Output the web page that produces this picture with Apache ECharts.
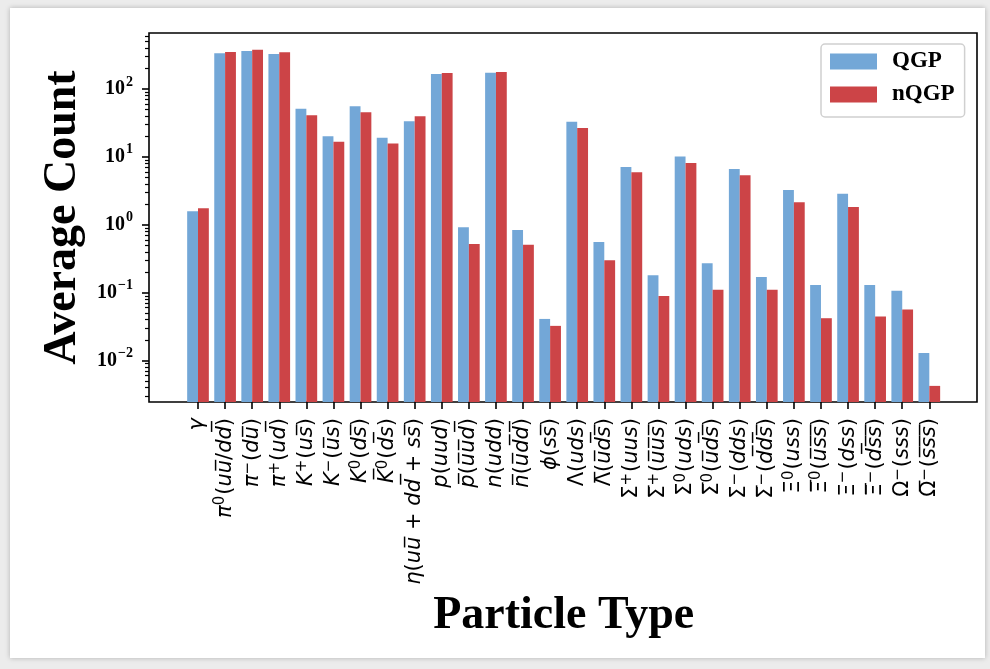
<!DOCTYPE html>
<html><head><meta charset="utf-8">
<script src="https://cdn.jsdelivr.net/npm/echarts@6/dist/echarts.min.js"></script>
<style>
html,body{margin:0;padding:0;background:#ececec;}
#wrap{position:relative;width:990px;height:669px;overflow:hidden;background:#ececec;}
#card{position:absolute;left:10px;top:8px;width:975px;height:650px;background:#fff;box-shadow:0 0 5px rgba(0,0,0,0.25);}
#chart{position:absolute;left:0;top:0;width:990px;height:669px;}
</style></head><body>
<div id="wrap"><div id="card"></div><div id="chart"></div></div>
<script>
// Category labels (overline = combining U+0305)
const categories = [
  "γ", "π⁰(uu̅/dd̅)", "π⁻(du̅)", "π⁺(ud̅)", "K⁺(us̅)", "K⁻(u̅s)", "K⁰(ds̅)", "K̅⁰(d̅s)",
  "η(uu̅ + dd̅ + ss̅)", "p(uud)", "p̅(u̅u̅d̅)", "n(udd)", "n̅(u̅d̅d̅)", "ϕ(ss̅)",
  "Λ(uds)", "Λ̅(u̅d̅s̅)", "Σ⁺(uus)", "Σ̅⁺(u̅u̅s̅)", "Σ⁰(uds)", "Σ̅⁰(u̅d̅s̅)",
  "Σ⁻(dds)", "Σ̅⁻(d̅d̅s̅)", "Ξ⁰(uss)", "Ξ̅⁰(u̅s̅s̅)", "Ξ⁻(dss)", "Ξ̅⁻(d̅s̅s̅)",
  "Ω⁻(sss)", "Ω̅⁻(s̅s̅s̅)"
];
const seriesNames = ["QGP", "nQGP"];
const qgp = [1.58, 336, 363, 328, 51.3, 20.1, 55.6, 19.2, 33.4, 166, 0.918, 174, 0.838, 0.041,
  33.0, 0.558, 7.1, 0.18, 10.1, 0.271, 6.63, 0.170, 3.26, 0.130, 2.87, 0.130, 0.107, 0.0129];
const nqgp = [1.75, 351, 380, 347, 41.0, 16.7, 45.4, 15.8, 39.6, 172, 0.521, 178, 0.509, 0.0324,
  26.7, 0.30, 5.93, 0.0893, 8.13, 0.11, 5.36, 0.11, 2.14, 0.042, 1.83, 0.0445, 0.0564, 0.00423];
const yTickExponents = [-2, -1, 0, 1, 2];
const minorMultipliers = [2, 3, 4, 5, 6, 7, 8, 9];
const yMinExp = -2.611, yMaxExp = 2.825;

const minorTicks = [];
for (let n = -3; n <= 2; n++) {
  minorMultipliers.forEach(k => {
    const e = n + Math.log10(k);
    if (e >= yMinExp && e <= yMaxExp) minorTicks.push(e);
  });
}

const supMap = { "⁰": "0", "⁺": "+", "⁻": "−" };
const upright = new Set(["(", ")", "+", "/", " ", "Σ", "Λ", "Ξ", "Ω"]);
function richLabel(s) {
  const chars = Array.from(s);
  const segs = [];
  for (let i = 0; i < chars.length; i++) {
    let c = chars[i];
    const base = c;
    while (i + 1 < chars.length && chars[i + 1] === "\u0305") { c += chars[i + 1]; i++; }
    let st;
    if (supMap[base]) { st = "s"; c = supMap[base]; }
    else st = upright.has(base) ? "n" : "i";
    if (segs.length && segs[segs.length - 1].st === st) segs[segs.length - 1].t += c;
    else segs.push({ st, t: c });
  }
  return segs.map(g => "{" + g.st + "|" + g.t + "}").join("");
}

const serif = "'Liberation Serif', 'Times New Roman', serif";
const sans = "'DejaVu Sans', sans-serif";
const labelSize = 21;

const chart = echarts.init(document.getElementById("chart"), null, { renderer: "canvas" });
chart.setOption({
  animation: false,
  backgroundColor: "transparent",
  grid: [
    { left: 149, top: 33, width: 828, height: 369, show: true, borderColor: "#000", borderWidth: 1.6, backgroundColor: "transparent" },
    { left: 184.46, top: 33, width: 758.4, height: 369 }
  ],
  legend: {
    data: seriesNames,
    orient: "vertical",
    left: 821, top: 44,
    icon: "rect",
    itemWidth: 47, itemHeight: 16, itemGap: 10,
    padding: [6, 10, 11, 9],
    borderColor: "#d0d0d0", borderWidth: 1.5, borderRadius: 4,
    backgroundColor: "rgba(255,255,255,0.8)",
    textStyle: { fontFamily: serif, fontWeight: "bold", fontSize: 23, lineHeight: 23, color: "#000", padding: [0, 0, 0, 10] }
  },
  xAxis: [
    { gridIndex: 0, type: "value", min: 0, max: 1, show: false },
    {
      gridIndex: 1, type: "category", data: categories,
      axisLine: { show: false },
      axisTick: { show: true, alignWithLabel: true, length: 7, lineStyle: { color: "#000", width: 1.6 } },
      axisLabel: {
        interval: 0, rotate: 90, margin: 16, color: "#000",
        formatter: v => richLabel(v),
        rich: {
          i: { fontFamily: sans, fontStyle: "italic", fontSize: labelSize, lineHeight: 22, color: "#000" },
          n: { fontFamily: sans, fontStyle: "normal", fontSize: labelSize, lineHeight: 22, color: "#000" },
          s: { fontFamily: sans, fontStyle: "normal", fontSize: 15, lineHeight: 15, padding: [0, 1, 9, 0], color: "#000" }
        }
      },
      name: "Particle Type", nameLocation: "middle", nameGap: 187,
      nameTextStyle: { fontFamily: serif, fontWeight: "bold", fontSize: 46, color: "#000" }
    }
  ],
  yAxis: [
    {
      gridIndex: 0, type: "value", min: yMinExp, max: yMaxExp, position: "left",
      axisLine: { show: false }, splitLine: { show: false },
      axisTick: { show: true, customValues: yTickExponents, length: 7, lineStyle: { color: "#000", width: 1.6 } },
      axisLabel: {
        customValues: yTickExponents, margin: 16, color: "#000",
        formatter: v => { const n = Math.round(v); return "{b|10}{s|" + (n < 0 ? "−" + (-n) : n) + "}"; },
        rich: {
          b: { fontFamily: serif, fontWeight: "bold", fontSize: 20, lineHeight: 20, color: "#000" },
          s: { fontFamily: serif, fontWeight: "bold", fontSize: 14, lineHeight: 14, padding: [0, 0, 14, 1], color: "#000" }
        }
      },
      name: "Average Count", nameLocation: "middle", nameGap: 62, nameRotate: 90,
      nameTextStyle: { fontFamily: serif, fontWeight: "bold", fontSize: 46, color: "#000" }
    },
    {
      gridIndex: 0, type: "value", min: yMinExp, max: yMaxExp, position: "left", offset: 0,
      axisLine: { show: false }, splitLine: { show: false }, axisLabel: { show: false },
      axisTick: { show: true, customValues: minorTicks, length: 4, lineStyle: { color: "#000", width: 1.2 } }
    },
    {
      gridIndex: 1, type: "log", logBase: 10, min: Math.pow(10, yMinExp), max: Math.pow(10, yMaxExp),
      startValue: Math.pow(10, yMinExp), show: false
    }
  ],
  series: [
    { name: seriesNames[0], type: "bar", xAxisIndex: 1, yAxisIndex: 2, data: qgp, barWidth: "40%", barGap: "0%", itemStyle: { color: "#73a7d7" } },
    { name: seriesNames[1], type: "bar", xAxisIndex: 1, yAxisIndex: 2, data: nqgp, barWidth: "40%", barGap: "0%", itemStyle: { color: "#cc4447" } }
  ]
});
</script>
</body></html>
